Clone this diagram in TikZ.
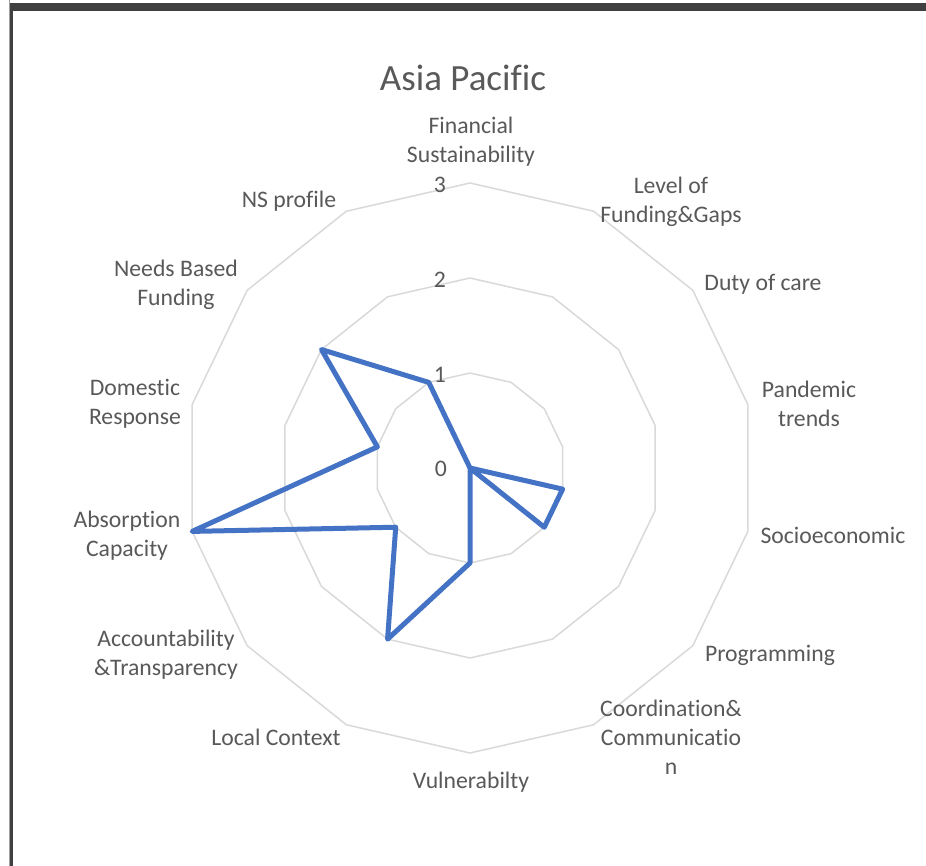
\documentclass[tikz,border=0pt]{standalone}
\usepackage{fontspec}
\setmainfont{Carlito}[Ligatures={NoCommon}]
\definecolor{txt}{HTML}{595959}
\definecolor{gridc}{HTML}{D9D9D9}
\definecolor{ser}{HTML}{4472C4}
\definecolor{framec}{HTML}{404040}
\definecolor{framel}{HTML}{A0A0A0}
\begin{document}
\begin{tikzpicture}[x=1pt,y=1pt,
  lbl/.style={text=txt, font=\fontsize{23.7}{29}\selectfont, align=center, inner sep=0pt},
  tick/.style={text=txt, font=\fontsize{23.7}{29}\selectfont, inner sep=0pt},
  gridline/.style={draw=gridc, line width=1.5pt, line join=round},
  series/.style={draw=ser, line width=5pt, line join=round}]
\useasboundingbox (-470,-398) rectangle (456,468);
\fill[white] (-470,-398) rectangle (456,468);
% frame
\fill[framel] (-461,-398) rectangle (-460,468);
\fill[framec] (-460,464.5) rectangle (456,457);
\fill[framec] (-460,-398) rectangle (-457.3,464.5);
% title
\node[text=txt, font=\fontsize{37}{44}\selectfont, inner sep=0pt] (title) at (-7,390) {Asia Pacific};
% grid
\foreach \r in {95,190,285}
  \draw[gridline] (90:\r) \foreach \k in {1,...,13} { -- ({90-\k*360/14}:\r) } -- cycle;
% tick labels
\node[tick] (t0) at (-29,-1) {0};
\node[tick] (t1) at (-30,93) {1};
\node[tick] (t2) at (-30,188) {2};
\node[tick] (t3) at (-30,283) {3};
% data
\foreach \v [count=\i from 0] in {0,0,0,0,1,1,0,1,2,1,3,1,2,1}
  \coordinate (d\i) at ({90-\i*360/14}:{\v*95});
\draw[series] (d0) -- (d1) -- (d2) -- (d3) -- (d4) -- (d5) -- (d6) -- (d7)
  -- (d8) -- (d9) -- (d10) -- (d11) -- (d12) -- (d13) -- cycle;
% axis labels
\node[lbl] (l0) at (1,326) {Financial\\Sustainability};
\node[lbl] (l1) at (201,266.5) {Level of\\Funding\&Gaps};
\node[lbl] (l2) at (293,183.5) {Duty of care};
\node[lbl] (l3) at (339,64) {Pandemic\\trends};
\node[lbl] (l4) at (363,-67.5) {Socioeconomic};
\node[lbl] (l5) at (300,-187.5) {Programming};
\node[lbl] (l6) at (201,-269.5) {Coordination\&\\Communicatio\\n};
\node[lbl] (l7) at (1,-314.5) {Vulnerabilty};
\node[lbl] (l8) at (-194,-269.5) {Local Context};
\node[lbl] (l9) at (-304,-187) {Accountability\\\&Transparency};
\node[lbl] (l10) at (-343,-68) {Absorption\\Capacity};
\node[lbl] (l11) at (-335,64) {Domestic\\Response};
\node[lbl] (l12) at (-294,183) {Needs Based\\Funding};
\node[lbl] (l13) at (-181,266.5) {NS profile};
\end{tikzpicture}
\end{document}
